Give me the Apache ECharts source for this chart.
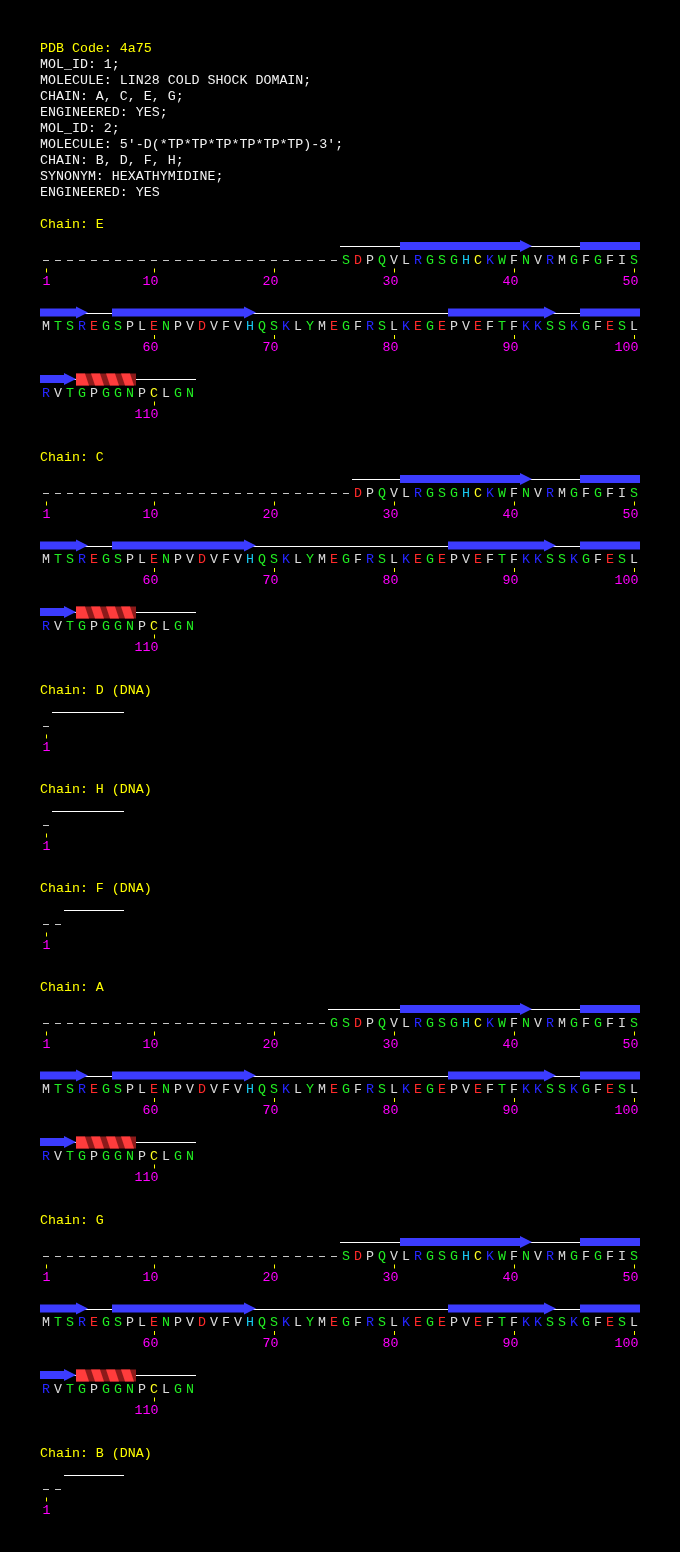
<!DOCTYPE html>
<html style="height: 100%">
<head>
    <meta charset="utf-8">
    <title>PDB 4a75 sequence</title>
    <script src="https://cdn.jsdelivr.net/npm/echarts@6/dist/echarts.min.js"></script>
</head>
<body style="height: 100%; margin: 0; background: #000">
<div id="main" style="width: 680px; height: 1552px"></div>
<script type="text/javascript">

    // header text
    var pdbCode = '4a75';
    var headerLines = [
        'MOL_ID: 1;',
        'MOLECULE: LIN28 COLD SHOCK DOMAIN;',
        'CHAIN: A, C, E, G;',
        'ENGINEERED: YES;',
        'MOL_ID: 2;',
        "MOLECULE: 5'-D(*TP*TP*TP*TP*TP*TP)-3';",
        'CHAIN: B, D, F, H;',
        'SYNONYM: HEXATHYMIDINE;',
        'ENGINEERED: YES'
    ];

    // chains, in drawing order
    var chainNames = ['E', 'C', 'D', 'H', 'F', 'A', 'G', 'B'];
    var chainIsDna = [false, false, true, true, true, false, false, true];
    var chainFirst = [26, 27, 2, 2, 3, 25, 26, 3];   // first observed residue
    var chainLast  = [113, 113, 7, 7, 7, 113, 113, 7];

    // protein sequence, starting at residue 25
    var seqStart = 25;
    var proteinSeq = 'GSDPQVLRGSGHCKWFNVRMGFGFIS' +
        'MTSREGSPLENPVDVFVHQSKLYMEGFRSLKEGEPVEFTFKKSSKGFESL' +
        'RVTGPGGNPCLGN';

    // secondary structure (same for every protein chain)
    var strandStart = [31, 46, 57, 85, 96];
    var strandEnd   = [41, 54, 68, 93, 103];
    var helixStart  = [104];
    var helixEnd    = [108];

    // residue number labels
    var proteinTicks = [1, 10, 20, 30, 40, 50, 60, 70, 80, 90, 100, 110];
    var dnaTicks = [1];

    var FONT = '13.3px "Liberation Mono", "DejaVu Sans Mono", monospace';
    var PER_ROW = 50;

    function resColor(c) {
        if ('DE'.indexOf(c) >= 0) return '#ff2a2a';
        if ('KR'.indexOf(c) >= 0) return '#2626ff';
        if (c === 'H') return '#18c8f0';
        if (c === 'C') return '#ffff20';
        if ('GSTNQWY'.indexOf(c) >= 0) return '#22ee22';
        return '#dcdcdc';
    }

    // layout of the blocks
    var blockTop = [];
    var curTop = 224;
    for (var i = 0; i < chainNames.length; i++) {
        blockTop.push(curTop);
        curTop += chainIsDna[i] ? 99 : 233;
    }
    function rowY(ci, r) { return blockTop[ci] + 36 + r * 66.5; }
    function rowOf(n) { return Math.floor((n - 1) / PER_ROW); }
    function colOf(n) { return (n - 1) % PER_ROW + 1; }

    // split a residue range by rows -> [leftEdge, rightEdge, y, isLastPiece]
    function splitRange(ci, s, e) {
        var out = [];
        for (var r = rowOf(s); r <= rowOf(e); r++) {
            var a = Math.max(s, r * PER_ROW + 1), b = Math.min(e, r * PER_ROW + PER_ROW);
            out.push([colOf(a) - 1, colOf(b), rowY(ci, r), b === e ? 1 : 0]);
        }
        return out;
    }

    var letterData = [], letterChars = [], dashData = [], tickData = [];
    var coilData = [], strandData = [], helixData = [];

    for (var ci = 0; ci < chainNames.length; ci++) {
        var dna = chainIsDna[ci];
        for (var n = 1; n < chainFirst[ci]; n++) {
            dashData.push([colOf(n) - 0.5, rowY(ci, rowOf(n))]);
        }
        if (!dna) {
            for (var n2 = chainFirst[ci]; n2 <= chainLast[ci]; n2++) {
                letterData.push([colOf(n2) - 0.5, rowY(ci, rowOf(n2))]);
                letterChars.push(proteinSeq.charAt(n2 - seqStart));
            }
        }
        coilData = coilData.concat(splitRange(ci, chainFirst[ci], chainLast[ci]));
        if (!dna) {
            for (var k = 0; k < strandStart.length; k++) {
                strandData = strandData.concat(splitRange(ci, strandStart[k], strandEnd[k]));
            }
            for (var h = 0; h < helixStart.length; h++) {
                helixData = helixData.concat(splitRange(ci, helixStart[h], helixEnd[h]));
            }
        }
        var ticks = dna ? dnaTicks : proteinTicks;
        for (var t = 0; t < ticks.length; t++) {
            tickData.push([colOf(ticks[t]) - 0.5, rowY(ci, rowOf(ticks[t])), ticks[t]]);
        }
    }

    // text lines: header then chain titles
    var textData = [], textStr = [], textCol = [];
    textData.push([0, 48]); textStr.push('PDB Code: ' + pdbCode); textCol.push('#ffff00');
    for (var li = 0; li < headerLines.length; li++) {
        textData.push([0, 64 + li * 16]); textStr.push(headerLines[li]); textCol.push('#f4f4f4');
    }
    for (var c2 = 0; c2 < chainNames.length; c2++) {
        textData.push([0, blockTop[c2]]);
        textStr.push('Chain: ' + chainNames[c2] + (chainIsDna[c2] ? ' (DNA)' : ''));
        textCol.push('#ffff00');
    }

    var myChart = echarts.init(document.getElementById('main'));

    var option = {
        backgroundColor: '#000',
        animation: false,
        grid: {left: 40, right: 40, top: 0, bottom: 0},
        xAxis: {type: 'value', min: 0, max: PER_ROW, show: false},
        yAxis: {type: 'value', min: 0, max: 1552, inverse: true, show: false},
        series: [
            {   // header and chain titles
                type: 'custom', silent: true, data: textData,
                renderItem: function (params, api) {
                    var p = api.coord([api.value(0), api.value(1)]);
                    return {type: 'text', x: p[0], y: p[1],
                        style: {text: textStr[params.dataIndex], fill: textCol[params.dataIndex], font: FONT,
                            align: 'left', verticalAlign: 'middle'}};
                }
            },
            {   // coil
                type: 'custom', silent: true, data: coilData, encode: {x: [0, 1], y: 2},
                renderItem: function (params, api) {
                    var p0 = api.coord([api.value(0), api.value(2)]);
                    var p1 = api.coord([api.value(1), api.value(2)]);
                    var y = Math.round(p0[1] - 14) + 0.5;
                    return {type: 'line', shape: {x1: p0[0], y1: y, x2: p1[0], y2: y},
                        style: {stroke: '#ffffff', lineWidth: 1}};
                }
            },
            {   // strands
                type: 'custom', silent: true, data: strandData, encode: {x: [0, 1], y: 2},
                renderItem: function (params, api) {
                    var p0 = api.coord([api.value(0), api.value(2)]);
                    var p1 = api.coord([api.value(1), api.value(2)]);
                    var cy = p0[1] - 14, x0 = p0[0], x1 = p1[0];
                    var pts;
                    if (api.value(3)) {
                        var hx = x1 - 12;
                        pts = [[x0, cy - 4], [hx, cy - 4], [hx, cy - 6], [x1, cy], [hx, cy + 6], [hx, cy + 4], [x0, cy + 4]];
                    } else {
                        pts = [[x0, cy - 4], [x1, cy - 4], [x1, cy + 4], [x0, cy + 4]];
                    }
                    return {type: 'polygon', shape: {points: pts}, style: {fill: '#3c3cff'}};
                }
            },
            {   // helices
                type: 'custom', silent: true, data: helixData, encode: {x: [0, 1], y: 2},
                renderItem: function (params, api) {
                    var p0 = api.coord([api.value(0), api.value(2)]);
                    var p1 = api.coord([api.value(1), api.value(2)]);
                    var cy = p0[1] - 13.5, x0 = p0[0], x1 = p1[0];
                    var t = cy - 6, b = cy + 6;
                    var kids = [{type: 'rect', shape: {x: x0, y: t, width: x1 - x0, height: b - t},
                        style: {fill: '#8b1a1a'}}];
                    var turns = Math.round((x1 - x0) / 15);
                    var w = (x1 - x0) / turns;
                    for (var k = 0; k < turns; k++) {
                        var a = x0 + k * w;
                        kids.push({type: 'polygon',
                            shape: {points: [[a, t], [a + 9, t], [a + 13, b], [k === 0 ? a : a + 4, b]]},
                            style: {fill: '#ff3c3c'}});
                    }
                    return {type: 'group', children: kids};
                }
            },
            {   // missing residues
                type: 'custom', silent: true, data: dashData,
                renderItem: function (params, api) {
                    var p = api.coord([api.value(0), api.value(1)]);
                    var y = Math.round(p[1]) + 0.5;
                    return {type: 'line', shape: {x1: p[0] - 3, y1: y, x2: p[0] + 3, y2: y},
                        style: {stroke: '#c8c8c8', lineWidth: 1}};
                }
            },
            {   // residue letters
                type: 'custom', silent: true, data: letterData,
                renderItem: function (params, api) {
                    var p = api.coord([api.value(0), api.value(1)]);
                    var ch = letterChars[params.dataIndex];
                    return {type: 'text', x: p[0], y: p[1],
                        style: {text: ch, fill: resColor(ch), font: FONT, align: 'center', verticalAlign: 'middle'}};
                }
            },
            {   // residue numbers
                type: 'custom', silent: true, data: tickData,
                renderItem: function (params, api) {
                    var p = api.coord([api.value(0), api.value(1)]);
                    var x = Math.round(p[0]) + 0.5;
                    return {type: 'group', children: [
                        {type: 'line', shape: {x1: x, y1: p[1] + 8.5, x2: x, y2: p[1] + 12.5},
                            style: {stroke: '#ffff00', lineWidth: 1}},
                        {type: 'text', x: p[0] + 4.5, y: p[1] + 21,
                            style: {text: String(api.value(2)), fill: '#ff00ff', font: FONT,
                                align: 'right', verticalAlign: 'middle'}}
                    ]};
                }
            }
        ]
    };

    myChart.setOption(option);
</script>
</body>
</html>
